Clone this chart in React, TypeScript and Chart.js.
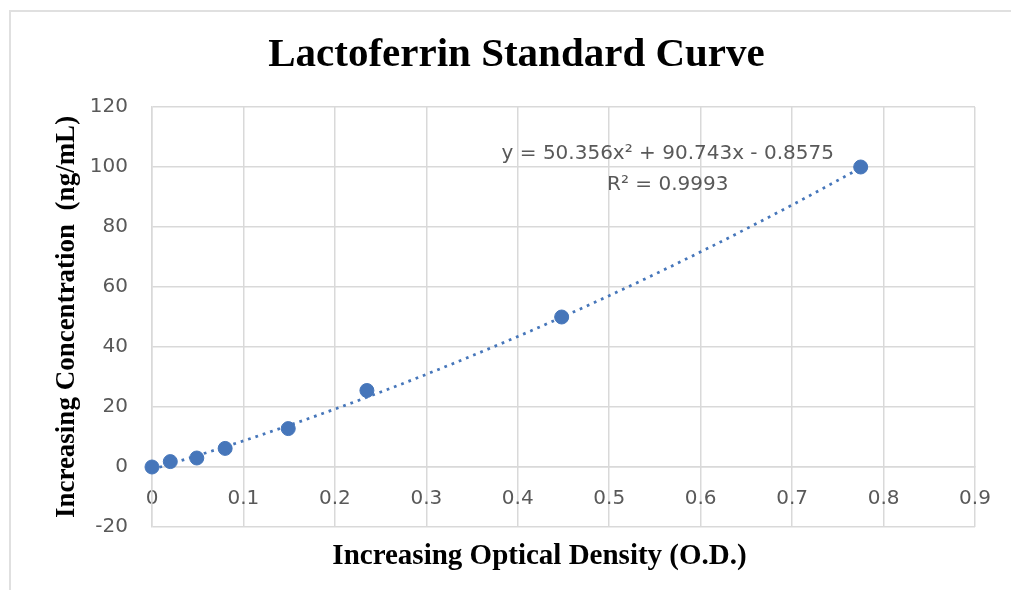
import React, { useEffect, useRef } from "react";
import { Chart, registerables } from "chart.js";

Chart.register(...registerables);

// Measured standards (optical density vs concentration)
const OD = [0, 0.02, 0.049, 0.08, 0.149, 0.235, 0.448, 0.775];
const CONC = [0, 1.8, 3.0, 6.2, 12.8, 25.5, 50, 100];

// Polynomial trendline read along its dotted path
const TREND_X = [0, 0.1, 0.2, 0.3, 0.4, 0.5, 0.6, 0.7, 0.775];
const TREND_Y = [-0.86, 8.72, 19.31, 30.9, 43.5, 57.1, 71.72, 87.34, 99.7];

const X_TICKS = [0, 0.1, 0.2, 0.3, 0.4, 0.5, 0.6, 0.7, 0.8, 0.9];
const Y_TICKS = [-20, 0, 20, 40, 60, 80, 100, 120];

const TITLE = "Lactoferrin Standard Curve";
const X_TITLE = "Increasing Optical Density (O.D.)";
const Y_TITLE = "Increasing Concentration  (ng/mL)";
const EQUATION = ["y = 50.356x\u00B2 + 90.743x - 0.8575", "R\u00B2 = 0.9993"];
const EQUATION_ANCHOR = [0.564, 104.3, 94.0]; // x value, line-1 y value, line-2 y value

const GRID = "#d9d9d9";
const TICK_COLOR = "#595959";
const BLUE = "#4676ba";
const TICK_FONT = { family: "'DejaVu Sans', sans-serif", size: 20 };

const textPlugin = {
  id: "texts",
  afterDraw(chart: any) {
    const { ctx, scales } = chart;
    const x = scales.x;
    const y = scales.y;
    ctx.save();
    ctx.textAlign = "center";
    ctx.textBaseline = "middle";
    // Chart title
    ctx.fillStyle = "#000";
    ctx.font = "bold 41px 'Liberation Serif', serif";
    ctx.fillText(TITLE, chart.width / 2 + 11, 55);
    // X axis title
    ctx.font = "bold 29px 'Liberation Serif', serif";
    ctx.fillText(X_TITLE, chart.width / 2 + 34, 557);
    // Trendline equation
    ctx.fillStyle = TICK_COLOR;
    ctx.font = "20px 'DejaVu Sans', sans-serif";
    const ex = x.getPixelForValue(EQUATION_ANCHOR[0]);
    ctx.fillText(EQUATION[0], ex, y.getPixelForValue(EQUATION_ANCHOR[1]));
    ctx.fillText(EQUATION[1], ex, y.getPixelForValue(EQUATION_ANCHOR[2]));
    ctx.restore();
  },
};

export default function App() {
  const ref = useRef<HTMLCanvasElement | null>(null);

  useEffect(() => {
    if (!ref.current) return;
    const chart = new Chart(ref.current, {
      type: "scatter",
      data: {
        datasets: [
          {
            label: "Standards",
            data: OD.map((v, i) => ({ x: v, y: CONC[i] })),
            backgroundColor: BLUE,
            borderColor: BLUE,
            pointRadius: 7,
            pointHoverRadius: 7,
            clip: false,
          } as any,
          {
            label: "Poly. trend",
            data: TREND_X.map((v, i) => ({ x: v, y: TREND_Y[i] })),
            showLine: true,
            borderColor: BLUE,
            borderWidth: 2.75,
            borderDash: [2.75, 5],
            pointRadius: 0,
            tension: 0.4,
            cubicInterpolationMode: "monotone",
            clip: false,
          } as any,
        ],
      },
      options: {
        animation: false,
        responsive: false,
        devicePixelRatio: 1,
        layout: { padding: { left: 0, top: 107, right: 36, bottom: 63 } },
        plugins: {
          legend: { display: false },
          tooltip: { enabled: false },
          title: { display: false },
        },
        scales: {
          x: {
            type: "linear",
            position: { y: 0 } as any,
            min: 0,
            max: 0.9,
            afterBuildTicks: (s: any) => {
              s.ticks = X_TICKS.map((v) => ({ value: v }));
            },
            grid: { color: GRID, lineWidth: 1.5, drawTicks: false },
            border: { color: GRID, width: 1.5 },
            ticks: {
              color: TICK_COLOR,
              font: TICK_FONT,
              padding: 20,
              maxRotation: 0,
              autoSkip: false,
              callback: (v: any) => String(Number(Number(v).toFixed(1))),
            },
          },
          y: {
            type: "linear",
            position: "left",
            min: -20,
            max: 120,
            afterBuildTicks: (s: any) => {
              s.ticks = Y_TICKS.map((v) => ({ value: v }));
            },
            afterFit: (s: any) => {
              s.width = 152;
            },
            grid: { color: GRID, lineWidth: 1.5, drawTicks: false },
            border: { color: GRID, width: 1.5 },
            ticks: {
              color: TICK_COLOR,
              font: TICK_FONT,
              padding: 24,
              autoSkip: false,
            },
            title: {
              display: true,
              text: Y_TITLE,
              color: "#000",
              font: { family: "'Liberation Serif', serif", size: 27, weight: "bold" },
              padding: { top: 51, bottom: 0 },
            },
          },
        },
      },
      plugins: [textPlugin],
    });
    return () => chart.destroy();
  }, []);

  return (
    <>
      <div
        style={{
          position: "fixed",
          left: 9,
          top: 10,
          right: 0,
          bottom: 0,
          borderLeft: "2px solid #e0e0e0",
          borderTop: "2px solid #e0e0e0",
          background: "#fff",
        }}
      />
      <canvas
        ref={ref}
        width={1011}
        height={590}
        style={{ position: "fixed", left: 0, top: 0, width: 1011, height: 590 }}
      />
    </>
  );
}
